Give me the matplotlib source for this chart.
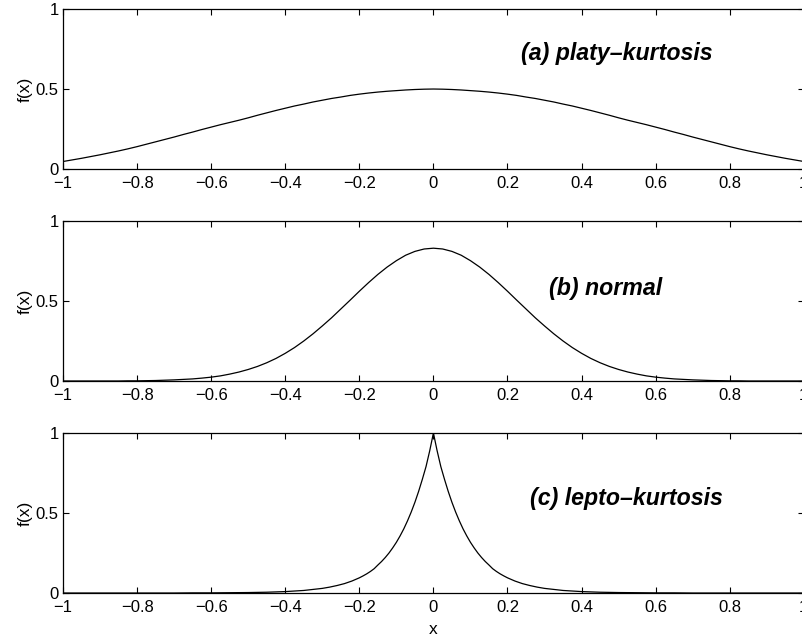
import numpy as np
import matplotlib
matplotlib.use("Agg")
import matplotlib.pyplot as plt

plt.rcParams['font.family'] = ['Liberation Sans', 'DejaVu Sans']

# sample positions
x_grid = np.linspace(-1, 1, 81)       # step 0.025
x_lepto = np.concatenate([np.linspace(-1, -0.35, 14),
                          np.linspace(-0.3, 0.3, 61),   # denser around the cusp
                          np.linspace(0.35, 1, 14)])

# (a) platy-kurtosis
f_platy = [0.047, 0.057, 0.067, 0.078, 0.089, 0.101, 0.113, 0.126, 0.140, 0.155,
           0.170, 0.185, 0.200, 0.216, 0.231, 0.247, 0.262, 0.277, 0.291, 0.305,
           0.320, 0.336, 0.351, 0.366, 0.380, 0.394, 0.406, 0.419, 0.430, 0.441,
           0.450, 0.460, 0.468, 0.475, 0.481, 0.486, 0.490, 0.494, 0.497, 0.499,
           0.500,
           0.499, 0.497, 0.494, 0.490, 0.486, 0.481, 0.475, 0.468, 0.460, 0.450,
           0.441, 0.430, 0.419, 0.406, 0.394, 0.380, 0.366, 0.351, 0.336, 0.320,
           0.305, 0.291, 0.277, 0.262, 0.247, 0.231, 0.216, 0.200, 0.185, 0.170,
           0.155, 0.140, 0.126, 0.113, 0.101, 0.089, 0.078, 0.067, 0.057, 0.047]

# (b) normal
f_normal = [0, 0, 0, 0, 0, 0, 0, 0.001, 0.001, 0.002,
            0.003, 0.005, 0.007, 0.010, 0.013, 0.018, 0.024, 0.032, 0.043, 0.056,
            0.072, 0.091, 0.114, 0.141, 0.173, 0.209, 0.250, 0.295, 0.344, 0.395,
            0.450, 0.505, 0.561, 0.615, 0.666, 0.712, 0.752, 0.786, 0.810, 0.825,
            0.830,
            0.825, 0.810, 0.786, 0.752, 0.712, 0.666, 0.615, 0.561, 0.505, 0.450,
            0.395, 0.344, 0.295, 0.250, 0.209, 0.173, 0.141, 0.114, 0.091, 0.072,
            0.056, 0.043, 0.032, 0.024, 0.018, 0.013, 0.010, 0.007, 0.005, 0.003,
            0.002, 0.001, 0.001, 0, 0, 0, 0, 0, 0, 0]

# (c) lepto-kurtosis
f_lepto = [0, 0, 0, 0, 0, 0, 0, 0.001, 0.001, 0.002, 0.003, 0.005, 0.009, 0.016,
           0.029, 0.033, 0.037, 0.042, 0.047, 0.053, 0.059, 0.067, 0.075, 0.085,
           0.095, 0.107, 0.120, 0.135, 0.152, 0.175, 0.197, 0.222, 0.250, 0.282,
           0.317, 0.357, 0.401, 0.451, 0.506, 0.567, 0.635, 0.710, 0.790, 0.889,
           1.0,
           0.889, 0.790, 0.710, 0.635, 0.567, 0.506, 0.451, 0.401, 0.357, 0.317,
           0.282, 0.250, 0.222, 0.197, 0.175, 0.152, 0.135, 0.120, 0.107, 0.095,
           0.085, 0.075, 0.067, 0.059, 0.053, 0.047, 0.042, 0.037, 0.033, 0.029,
           0.016, 0.009, 0.005, 0.003, 0.002, 0.001, 0.001, 0, 0, 0, 0, 0, 0, 0]

labels = ["(a) platy\u2013kurtosis", "(b) normal", "(c) lepto\u2013kurtosis"]
label_pos = [(0.495, 0.725), (0.465, 0.58), (0.52, 0.59)]

xticks = [-1, -0.8, -0.6, -0.4, -0.2, 0, 0.2, 0.4, 0.6, 0.8, 1]
xticklabels = ["\u22121", "\u22120.8", "\u22120.6", "\u22120.4", "\u22120.2",
               "0", "0.2", "0.4", "0.6", "0.8", "1"]
yticks = [0, 0.5, 1]
yticklabels = ["0", "0.5", "1"]

fig = plt.figure(figsize=(8.03, 6.4), dpi=100)
bottoms = [0.7359, 0.4047, 0.0734]
series = [(x_grid, f_platy), (x_grid, f_normal), (x_lepto, f_lepto)]

for i in range(3):
    ax = fig.add_axes([0.0785, bottoms[i], 0.9225, 0.25])
    xs, ys = series[i]
    ax.plot(xs, ys, color='k', linewidth=0.9)
    ax.set_xlim(-1, 1)
    ax.set_ylim(0, 1)
    ax.set_xticks(xticks)
    ax.set_xticklabels(xticklabels)
    ax.set_yticks(yticks)
    ax.set_yticklabels(yticklabels)
    ax.tick_params(direction='in', top=True, right=True, length=4.5, width=0.8,
                   labelsize=12, pad=3)
    ax.tick_params(axis='x', pad=5)
    for s in ax.spines.values():
        s.set_linewidth(0.9)
    ax.set_ylabel("f(x)", fontsize=12.5, labelpad=2)
    ax.text(label_pos[i][0], label_pos[i][1], labels[i], fontsize=16.7,
            fontweight='bold', fontstyle='italic', ha='center', va='center')

ax.set_xlabel("x", fontsize=12.5, labelpad=5)

fig.savefig("out.png", dpi=100)
